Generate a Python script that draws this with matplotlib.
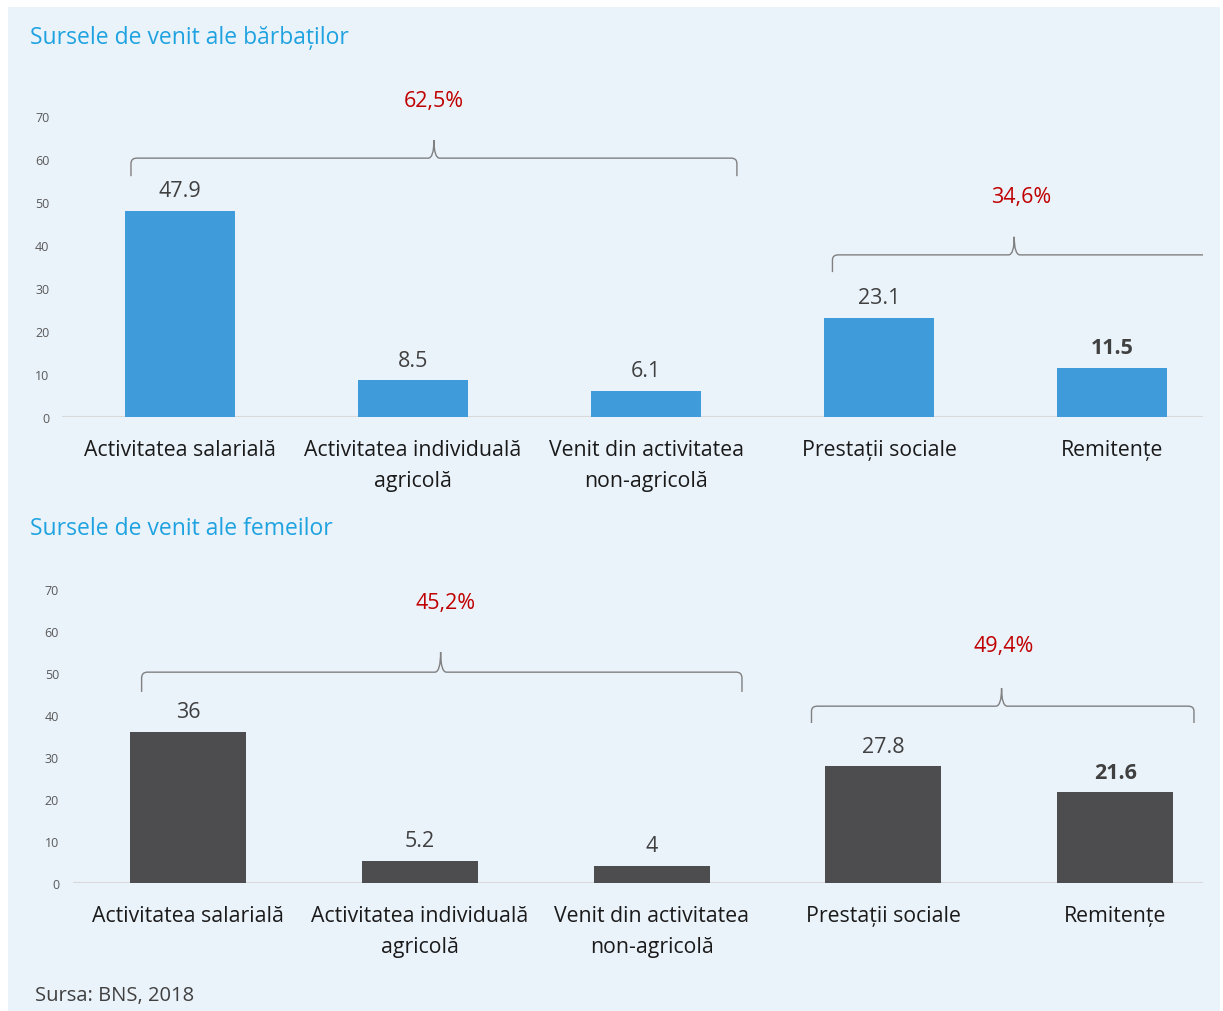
import matplotlib.pyplot as plt
from matplotlib.patches import Rectangle, PathPatch
from matplotlib.path import Path

# data
categories = ['Activitatea salarială', 'Activitatea individuală\nagricolă',
              'Venit din activitatea\nnon-agricolă', 'Prestații sociale', 'Remitențe']
men_values = [47.9, 8.5, 6.1, 23.1, 11.5]
women_values = [36, 5.2, 4, 27.8, 21.6]
men_groups = ['62,5%', '34,6%']
women_groups = ['45,2%', '49,4%']

BG = '#EAF2FA'
TITLE_C = '#1FA3E0'
RED = '#C00000'
TXT = '#404040'
FONT = ['Open Sans', 'DejaVu Sans']

plt.rcParams['font.family'] = FONT

fig = plt.figure(figsize=(12.23, 10.12), dpi=100)
fig.patch.set_facecolor('white')
fig.add_artist(Rectangle((8 / 1223, 0), 1212 / 1223, 1 - 8 / 1012,
                         transform=fig.transFigure, facecolor=BG, edgecolor='none', zorder=-10))


def brace(ax, x0, x1, xm, y, tip, peak, label, label_xy, right_hook=True):
    # curly bracket drawn in data units of the axis
    rx = 0.025
    ry = (y - tip) * 0.3
    verts = [(x0, tip), (x0, y - ry), (x0, y), (x0 + rx, y),
             (xm - rx, y), (xm, y), (xm, peak), (xm, y), (xm + rx, y)]
    codes = [Path.MOVETO, Path.LINETO, Path.CURVE3, Path.CURVE3,
             Path.LINETO, Path.CURVE3, Path.CURVE3, Path.CURVE3, Path.CURVE3]
    if right_hook:
        verts += [(x1 - rx, y), (x1, y), (x1, y - ry), (x1, tip)]
        codes += [Path.LINETO, Path.CURVE3, Path.CURVE3, Path.LINETO]
    else:
        verts += [(x1, y)]
        codes += [Path.LINETO]
    ax.add_patch(PathPatch(Path(verts, codes), facecolor='none', edgecolor='#808080',
                           lw=1.0, clip_on=False))
    ax.text(label_xy[0], label_xy[1], label, color=RED, fontsize=15.5, ha='center',
            va='center', clip_on=False)


def panel(rect, values, color, xlim, width, bold_last, tick_pad):
    ax = fig.add_axes(rect)
    ax.set_facecolor('none')
    x = range(len(values))
    bars = ax.bar(x, values, width=width, color=color, zorder=3)
    ax.set_xlim(*xlim)
    ax.set_ylim(0, 70)
    ax.set_yticks(range(0, 71, 10))
    ax.set_xticks(list(x))
    ax.set_xticklabels(categories, fontsize=15.3, color='#1A1A1A', linespacing=1.62)
    ax.tick_params(axis='x', length=0, pad=16)
    ax.tick_params(axis='y', length=0, pad=tick_pad, labelsize=9, labelcolor='#595959')
    for s in ax.spines.values():
        s.set_visible(False)
    ax.axhline(0, color='#D9D9D9', lw=1.5, zorder=2)
    for i, (b, v) in enumerate(zip(bars, values)):
        lbl = f'{v:g}'
        ax.annotate(lbl, (b.get_x() + b.get_width() / 2, v), xytext=(0, 7),
                    textcoords='offset points', ha='center', va='bottom',
                    fontsize=15.5, color=TXT,
                    fontweight='bold' if (bold_last and i == len(values) - 1) else 'normal')
    return ax


# top panel - men
ax1 = panel([62 / 1223, 1 - 418 / 1012, 1141 / 1223, 301 / 1012], men_values, '#3F9BD9',
            (-0.506, 4.39), 0.472, True, 9)
brace(ax1, -0.21, 2.39, 1.09, 60.2, 56.0, 64.4, men_groups[0], (1.09, 73.5))
brace(ax1, 2.80, 4.39, 3.58, 37.7, 33.7, 41.9, men_groups[1], (3.61, 51.2), right_hook=False)

# bottom panel - women
ax2 = panel([73 / 1223, 1 - 884 / 1012, 1130 / 1223, 294 / 1012], women_values, '#4D4D4F',
            (-0.496, 4.379), 0.5, True, 10)
brace(ax2, -0.20, 2.39, 1.09, 50.2, 45.5, 55.0, women_groups[0], (1.11, 66.7))
brace(ax2, 2.69, 4.34, 3.51, 42.1, 38.1, 46.4, women_groups[1], (3.52, 56.6))

fig.text(30 / 1223, 1 - 38 / 1012, 'Sursele de venit ale bărbaților', color=TITLE_C,
         fontsize=16.5, ha='left', va='center')
fig.text(30 / 1223, 1 - 529 / 1012, 'Sursele de venit ale femeilor', color=TITLE_C,
         fontsize=16.5, ha='left', va='center')
fig.text(35 / 1223, 1 - 996 / 1012, 'Sursa: BNS, 2018', color=TXT,
         fontsize=14.5, ha='left', va='center')

fig.savefig('out.png', dpi=100)
